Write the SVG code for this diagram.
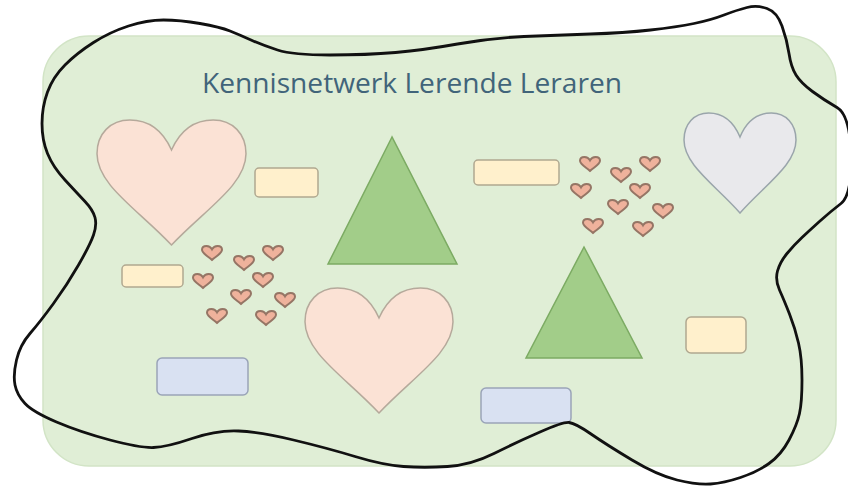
<svg xmlns="http://www.w3.org/2000/svg" xmlns:xlink="http://www.w3.org/1999/xlink" width="848" height="489" viewBox="0 0 848 489">
<style>
.bg{fill:#e0eed6;stroke:#d2e4c6;stroke-width:1.5}
.title{font-family:"Open Sans","Liberation Sans",Arial,sans-serif;font-size:27px;fill:#41647a}
.heartP{fill:#fbe2d5;stroke:#b5a99b;stroke-width:1.5}
.heartG{fill:#e9e9ec;stroke:#9aa5ab;stroke-width:1.5}
.heartS{fill:#efb29c;stroke:#957565;stroke-width:2}
.tri{fill:#a2cd89;stroke:#7cab63;stroke-width:1.5}
.ry{fill:#fff0cc;stroke:#b0a890;stroke-width:1.5}
.rb{fill:#d9e1f2;stroke:#9aa4b8;stroke-width:1.5}
.blob{fill:none;stroke:#111;stroke-width:2.8;stroke-linejoin:round}
</style>
<defs>
<path id="heart" vector-effect="non-scaling-stroke" d="M50,24 C44,8 34,0 22,0 C9,0 0,11 0,27 C0,52 28,72 50,100 C72,72 100,52 100,27 C100,11 91,0 78,0 C66,0 56,8 50,24 Z"/>
</defs>
<rect x="0" y="0" width="848" height="489" fill="#ffffff"/>
<g id="background"><rect class="bg" x="43" y="36" width="793" height="430" rx="46" ry="46"/></g>
<g id="title"><text class="title" x="412" y="93" text-anchor="middle" textLength="420" lengthAdjust="spacingAndGlyphs">Kennisnetwerk Lerende Leraren</text></g>
<g id="heart1"><use xlink:href="#heart" class="heartP" transform="translate(97,120) scale(1.49,1.25)"/></g>
<g id="heart2"><use xlink:href="#heart" class="heartP" transform="translate(305,288) scale(1.48,1.25)"/></g>
<g id="heart3"><use xlink:href="#heart" class="heartG" transform="translate(684,113) scale(1.12,1.0)"/></g>
<g id="triangle1"><polygon class="tri" points="392,137 328,264 457,264"/></g>
<g id="triangle2"><polygon class="tri" points="584,247 526,358 642,358"/></g>
<g id="rect1"><rect class="ry" x="255" y="168" width="63" height="29" rx="4"/></g>
<g id="rect2"><rect class="ry" x="474" y="160" width="85" height="25" rx="4"/></g>
<g id="rect3"><rect class="ry" x="122" y="265" width="61" height="22" rx="4"/></g>
<g id="rect4"><rect class="ry" x="686" y="317" width="60" height="36" rx="5"/></g>
<g id="rect5"><rect class="rb" x="157" y="358" width="91" height="37" rx="5"/></g>
<g id="rect6"><rect class="rb" x="481" y="388" width="90" height="35" rx="5"/></g>
<g id="hearts-cluster1">
<use xlink:href="#heart" class="heartS" transform="translate(202,246) scale(0.2,0.14)"/>
<use xlink:href="#heart" class="heartS" transform="translate(263,246) scale(0.2,0.14)"/>
<use xlink:href="#heart" class="heartS" transform="translate(234,256) scale(0.2,0.14)"/>
<use xlink:href="#heart" class="heartS" transform="translate(193,274) scale(0.2,0.14)"/>
<use xlink:href="#heart" class="heartS" transform="translate(253,273) scale(0.2,0.14)"/>
<use xlink:href="#heart" class="heartS" transform="translate(231,290) scale(0.2,0.14)"/>
<use xlink:href="#heart" class="heartS" transform="translate(275,293) scale(0.2,0.14)"/>
<use xlink:href="#heart" class="heartS" transform="translate(207,309) scale(0.2,0.14)"/>
<use xlink:href="#heart" class="heartS" transform="translate(256,311) scale(0.2,0.14)"/>
</g>
<g id="hearts-cluster2">
<use xlink:href="#heart" class="heartS" transform="translate(580,157) scale(0.2,0.14)"/>
<use xlink:href="#heart" class="heartS" transform="translate(640,157) scale(0.2,0.14)"/>
<use xlink:href="#heart" class="heartS" transform="translate(611,168) scale(0.2,0.14)"/>
<use xlink:href="#heart" class="heartS" transform="translate(571,184) scale(0.2,0.14)"/>
<use xlink:href="#heart" class="heartS" transform="translate(630,184) scale(0.2,0.14)"/>
<use xlink:href="#heart" class="heartS" transform="translate(608,200) scale(0.2,0.14)"/>
<use xlink:href="#heart" class="heartS" transform="translate(653,204) scale(0.2,0.14)"/>
<use xlink:href="#heart" class="heartS" transform="translate(583,219) scale(0.2,0.14)"/>
<use xlink:href="#heart" class="heartS" transform="translate(633,222) scale(0.2,0.14)"/>
</g>
<g id="outline">
<path class="blob" d="M128.5,26 Q147,20 163.5,20 Q180,20 200,23.5 Q220,27 230,31 Q240,35 251,40 Q262,45 277.5,50 Q293,55 330,55 Q367,55 395.5,52.5 Q424,50 457.5,44 Q491,38 524,36.5 Q557,35 590.5,34 Q624,33 650.5,30 Q677,27 694,23.5 Q711,20 724,15 Q737,10 747,7.5 Q757,5 767,8.5 Q777,12 782,26 Q787,40 789,53.5 Q791,67 796,75 Q801,83 812.5,91.5 Q824,100 837,107.5 Q850,115 851,155 Q852,195 841,203.5 Q830,212 820,221 Q810,230 802,237.5 Q794,245 787,253.5 Q780,262 777.5,271 Q775,280 779.5,290 Q784,300 789.5,314 Q795,328 798.5,343 Q802,358 802,380 Q802,402 799.5,413.5 Q797,425 789,440 Q781,455 769,463.5 Q757,472 740.5,477.5 Q724,483 710.5,484 Q697,485 677,480 Q657,475 632,460 Q607,445 591,434 Q575,423 569,422.5 Q563,422 540,432 Q517,442 494,453.5 Q471,465 447.5,466.5 Q424,468 403.5,466.5 Q383,465 355,456.5 Q327,448 293.5,440 Q260,432 238.5,431 Q217,430 192,438.5 Q167,447 153.5,447.5 Q140,448 110,440 Q80,432 56.5,422 Q33,412 25,403.5 Q17,395 15,385 Q13,375 16.5,360 Q20,345 30,333.5 Q40,322 53.5,303.5 Q67,285 78.5,265 Q90,245 93.5,235 Q97,225 95,217.5 Q93,210 85,201.5 Q77,193 65,180 Q53,167 47.5,153.5 Q42,140 42,123.5 Q42,107 47.5,92 Q53,77 65,65 Q77,53 93.5,42.5 Q110,32 128.5,26 Z"/>
</g>
</svg>
